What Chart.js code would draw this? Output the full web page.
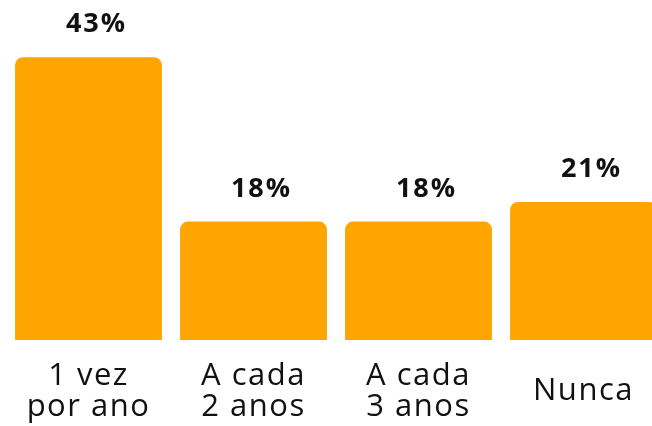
<!DOCTYPE html>
<html>
<head>
<meta charset="utf-8">
<script src="https://cdn.jsdelivr.net/npm/chart.js@4"></script>
<style>
  html, body { margin: 0; padding: 0; background: #fff; overflow: hidden; }
  #wrap { width: 672px; height: 426px; }
</style>
</head>
<body>
<div id="wrap"><canvas id="chart"></canvas></div>
<script>
const categories = [['1 vez', 'por ano'], ['A cada', '2 anos'], ['A cada', '3 anos'], 'Nunca'];
const values = [43, 18, 18, 21];
const valueLabels = ['43%', '18%', '18%', '21%'];

const FONT = "'Open Sans', sans-serif";

// wider letter spacing, closer to the original's geometric font
const spacing = {
    id: 'spacing',
    beforeDraw(chart) {
        chart.ctx.letterSpacing = '1.5px';
    },
    afterDraw(chart) {
        chart.ctx.letterSpacing = '0px';
    }
};

// draws the percentage above each bar
const topLabels = {
    id: 'topLabels',
    afterDatasetsDraw(chart) {
        const ctx = chart.ctx;
        const meta = chart.getDatasetMeta(0);
        ctx.save();
        ctx.letterSpacing = '2px';
        ctx.fillStyle = '#111';
        ctx.font = 'bold 27px ' + FONT;
        ctx.textAlign = 'center';
        ctx.textBaseline = 'alphabetic';
        meta.data.forEach((bar, i) => {
            ctx.fillText(valueLabels[i], bar.x + 8, bar.y - 25);
        });
        ctx.restore();
    }
};

const ctx = document.getElementById('chart').getContext('2d');
new Chart(ctx, {
    type: 'bar',
    data: {
        labels: categories,
        datasets: [{
            data: values,
            backgroundColor: '#FFA500',
            borderRadius: 8,
            borderSkipped: 'start',
            barPercentage: 0.89,
            categoryPercentage: 1
        }]
    },
    options: {
        responsive: true,
        maintainAspectRatio: false,
        animation: false,
        layout: { padding: { left: 6, right: 6, top: 0, bottom: 0 } },
        plugins: { legend: { display: false }, tooltip: { enabled: false } },
        scales: {
            x: {
                grid: { display: false, drawTicks: false },
                border: { display: false },
                afterFit(scale) {
                    scale.height = 86;
                    scale.paddingLeft = 0;
                    scale.paddingRight = 0;
                },
                ticks: {
                    color: '#111',
                    font: { family: FONT, size: 31, lineHeight: 1 },
                    padding: 36,
                    crossAlign: 'center',
                    maxRotation: 0,
                    autoSkip: false
                }
            },
            y: {
                display: false,
                min: 0,
                max: 51.7
            }
        }
    },
    plugins: [spacing, topLabels]
});
</script>
</body>
</html>
